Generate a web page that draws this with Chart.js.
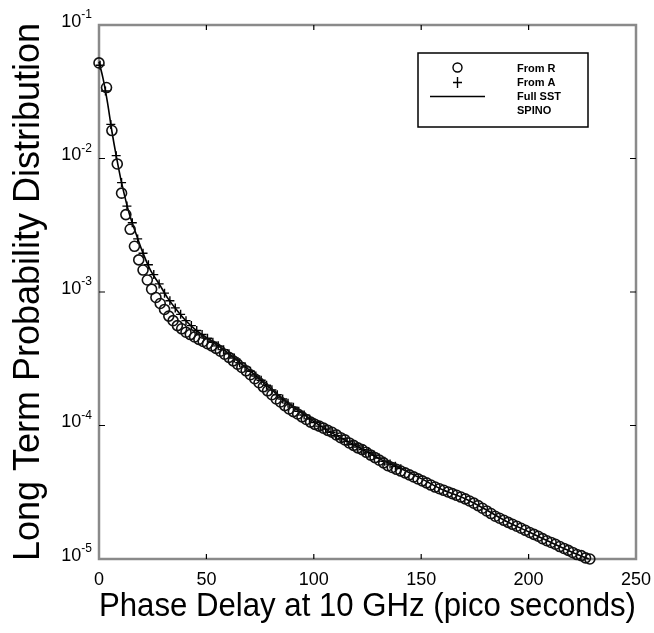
<!DOCTYPE html>
<html>
<head>
<meta charset="utf-8">
<script src="https://cdn.jsdelivr.net/npm/chart.js@4.4.0/dist/chart.umd.min.js"></script>
<style>
  html, body { margin: 0; padding: 0; background: #fff; }
</style>
</head>
<body>
<canvas id="chart" width="654" height="633"></canvas>
<script>
// values
const fromRX = [0, 3.5, 6, 8.5, 10.5, 12.5, 14.5, 16.5, 18.5, 20.5, 22.5, 24.5, 26.5, 28.5, 30.5, 32.5, 34.5, 36.5, 38.5, 40.5,
  42.5, 44.5, 46.5, 48.5, 50.5, 52.5, 54.5, 56.5, 58.5, 60.5, 62.5, 64.5, 66.5, 68.5, 70.5, 72.5, 74.5, 76.5, 78.5, 80.5,
  82.5, 84.5, 86.5, 88.5, 90.5, 92.5, 94.5, 96.5, 98.5, 100.5, 102.5, 104.5, 106.5, 108.5, 110.5, 112.5, 114.5, 116.5, 118.5, 120.5,
  122.5, 124.5, 126.5, 128.5, 130.5, 132.5, 134.5, 136.5, 138.5, 140.5, 142.5, 144.5, 146.5, 148.5, 150.5, 152.5, 154.5, 156.5, 158.5, 160.5,
  162.5, 164.5, 166.5, 168.5, 170.5, 172.5, 174.5, 176.5, 178.5, 180.5, 182.5, 184.5, 186.5, 188.5, 190.5, 192.5, 194.5, 196.5, 198.5, 200.5,
  202.5, 204.5, 206.5, 208.5, 210.5, 212.5, 214.5, 216.5, 218.5, 220.5, 222.5, 224.5, 226.5, 228.5];
const fromRY = [5.2e-2, 3.4e-2, 1.62e-2, 9.1e-3, 5.5e-3, 3.8e-3, 2.95e-3, 2.2e-3, 1.74e-3, 1.46e-3, 1.23e-3, 1.05e-3, 9.1e-4, 8.2e-4, 7.4e-4, 6.6e-4, 6.1e-4, 5.6e-4, 5.3e-4, 5.0e-4,
  4.8e-4, 4.6e-4, 4.42e-4, 4.26e-4, 4.1e-4, 3.95e-4, 3.78e-4, 3.6e-4, 3.42e-4, 3.24e-4, 3.05e-4, 2.88e-4, 2.72e-4, 2.57e-4, 2.4e-4, 2.24e-4, 2.09e-4, 1.95e-4, 1.82e-4, 1.7e-4,
  1.58e-4, 1.5e-4, 1.41e-4, 1.33e-4, 1.27e-4, 1.22e-4, 1.16e-4, 1.11e-4, 1.06e-4, 1.02e-4, 9.9e-5, 9.55e-5, 9.2e-5, 8.9e-5, 8.5e-5, 8.1e-5, 7.8e-5, 7.4e-5, 7.1e-5, 6.8e-5,
  6.6e-5, 6.3e-5, 6.0e-5, 5.75e-5, 5.5e-5, 5.25e-5, 5.0e-5, 4.85e-5, 4.7e-5, 4.56e-5, 4.42e-5, 4.27e-5, 4.12e-5, 3.98e-5, 3.85e-5, 3.72e-5, 3.58e-5, 3.46e-5, 3.36e-5, 3.27e-5,
  3.18e-5, 3.09e-5, 3.0e-5, 2.91e-5, 2.82e-5, 2.72e-5, 2.62e-5, 2.51e-5, 2.4e-5, 2.29e-5, 2.19e-5, 2.09e-5, 2.02e-5, 1.95e-5, 1.88e-5, 1.82e-5, 1.76e-5, 1.7e-5, 1.64e-5, 1.58e-5,
  1.53e-5, 1.48e-5, 1.42e-5, 1.37e-5, 1.33e-5, 1.29e-5, 1.24e-5, 1.2e-5, 1.16e-5, 1.12e-5, 1.08e-5, 1.06e-5, 1.02e-5, 1.0e-5];

const fromAX = [0.5, 3, 5.5, 8, 10.5, 13, 15.5, 18, 20.5, 23, 25.5, 28, 30.5, 33, 35.5, 38, 40.5, 43, 45.5, 48,
  50.5, 53, 55.5, 58, 60.5, 63, 65.5, 68, 70.5, 73, 75.5, 78, 80.5, 83, 85.5, 88, 90.5, 93, 95.5, 98,
  100.5, 103, 105.5, 108, 110.5, 113, 115.5, 118, 120.5, 123, 125.5, 128, 130.5, 133, 135.5, 138, 140.5];
const fromAY = [5.0e-2, 3.2e-2, 1.8e-2, 1.05e-2, 6.6e-3, 4.4e-3, 3.3e-3, 2.5e-3, 1.95e-3, 1.6e-3, 1.35e-3, 1.15e-3, 9.8e-4, 8.6e-4, 7.6e-4, 6.8e-4, 6.1e-4, 5.6e-4, 5.15e-4, 4.8e-4,
  4.5e-4, 4.2e-4, 3.95e-4, 3.7e-4, 3.45e-4, 3.2e-4, 2.95e-4, 2.75e-4, 2.55e-4, 2.35e-4, 2.18e-4, 2.0e-4, 1.85e-4, 1.7e-4, 1.58e-4, 1.47e-4, 1.37e-4, 1.28e-4, 1.2e-4, 1.12e-4,
  1.05e-4, 9.9e-5, 9.4e-5, 8.9e-5, 8.4e-5, 8.0e-5, 7.6e-5, 7.2e-5, 6.9e-5, 6.6e-5, 6.3e-5, 6.0e-5, 5.7e-5, 5.4e-5, 5.15e-5, 4.95e-5, 4.75e-5];

const sstX = [0, 2, 4, 6, 8, 10, 12, 14, 17, 20, 24, 28, 32, 36, 40, 45, 50, 55, 60, 65,
  70, 75, 80, 85, 90, 95, 100, 110, 120, 130, 140, 150, 160, 170, 180, 190, 200, 210, 220, 228];
const sstY = [5.3e-2, 3.9e-2, 2.6e-2, 1.6e-2, 1.05e-2, 7.2e-3, 5.2e-3, 3.9e-3, 2.8e-3, 2.05e-3, 1.45e-3, 1.15e-3, 9.0e-4, 7.4e-4, 6.2e-4, 5.2e-4, 4.55e-4, 4.0e-4, 3.5e-4, 3.0e-4,
  2.6e-4, 2.2e-4, 1.88e-4, 1.6e-4, 1.39e-4, 1.22e-4, 1.07e-4, 8.5e-5, 7.0e-5, 5.7e-5, 4.8e-5, 4.0e-5, 3.3e-5, 2.85e-5, 2.35e-5, 1.9e-5, 1.6e-5, 1.34e-5, 1.13e-5, 1.0e-5];

const xTicks = [0, 50, 100, 150, 200, 250];
const yTicks = [1e-5, 1e-4, 1e-3, 1e-2, 1e-1];
const yTickExp = ['-5', '-4', '-3', '-2', '-1'];
const legendLabels = ['From R', 'From A', 'Full SST', 'SPINO'];

const FONT = '"Liberation Sans", Arial, sans-serif';
const toPoints = (xs, ys) => xs.map((x, i) => ({ x: x, y: ys[i] }));

// matlab style box with inward ticks, superscript y labels and the legend box
const framePlugin = {
  id: 'frame',
  beforeDatasetsDraw(chart) {
    const { ctx, chartArea: a, scales } = chart;
    ctx.save();
    ctx.strokeStyle = '#8a8a8a';
    ctx.lineWidth = 2.5;
    ctx.strokeRect(a.left, a.top, a.right - a.left, a.bottom - a.top);
    ctx.strokeStyle = '#000';
    ctx.lineWidth = 1.2;
    ctx.beginPath();
    xTicks.slice(1, -1).forEach(v => {
      const px = scales.x.getPixelForValue(v);
      ctx.moveTo(px, a.bottom); ctx.lineTo(px, a.bottom - 5);
      ctx.moveTo(px, a.top); ctx.lineTo(px, a.top + 5);
    });
    yTicks.slice(1, -1).forEach(v => {
      const py = scales.y.getPixelForValue(v);
      ctx.moveTo(a.left, py); ctx.lineTo(a.left + 6, py);
      ctx.moveTo(a.right, py); ctx.lineTo(a.right - 6, py);
    });
    ctx.stroke();
    // y tick labels: 10 with a raised exponent
    ctx.fillStyle = '#000';
    ctx.textBaseline = 'middle';
    yTicks.forEach((v, i) => {
      const py = scales.y.getPixelForValue(v);
      ctx.font = '12px ' + FONT;
      ctx.textAlign = 'left';
      const ew = ctx.measureText(yTickExp[i]).width;
      const ex = a.left - 7 - ew;
      ctx.fillText(yTickExp[i], ex, py - 10);
      ctx.font = '18px ' + FONT;
      ctx.textAlign = 'right';
      ctx.fillText('10', ex, py - 3);
    });
    ctx.restore();
  },
  afterDraw(chart) {
    const { ctx, chartArea: a } = chart;
    const bx = a.right - 48 - 170, by = a.top + 28, bw = 170, bh = 74;
    ctx.save();
    ctx.fillStyle = '#fff';
    ctx.fillRect(bx, by, bw, bh);
    ctx.strokeStyle = '#000';
    ctx.lineWidth = 1.5;
    ctx.strokeRect(bx, by, bw, bh);
    const mx = bx + 39.5, tx = bx + 99;
    const rows = [by + 15.5, by + 29.5, by + 43.5, by + 58];
    ctx.lineWidth = 1.4;
    ctx.beginPath();
    ctx.arc(mx, rows[0] - 1, 4.5, 0, Math.PI * 2);
    ctx.stroke();
    ctx.beginPath();
    ctx.moveTo(mx - 4.5, rows[1]); ctx.lineTo(mx + 4.5, rows[1]);
    ctx.moveTo(mx, rows[1] - 5.5); ctx.lineTo(mx, rows[1] + 5.5);
    ctx.moveTo(bx + 12, rows[2]); ctx.lineTo(bx + 67, rows[2]);
    ctx.stroke();
    ctx.fillStyle = '#000';
    ctx.font = 'bold 11px ' + FONT;
    ctx.textAlign = 'left';
    ctx.textBaseline = 'middle';
    legendLabels.forEach((t, i) => ctx.fillText(t, tx, rows[i]));
    ctx.restore();
  }
};

new Chart(document.getElementById('chart'), {
  type: 'scatter',
  data: {
    datasets: [
      {
        label: legendLabels[0],
        data: toPoints(fromRX, fromRY),
        showLine: false,
        pointStyle: 'circle',
        pointRadius: 5,
        pointBorderWidth: 1.6,
        pointBorderColor: '#111',
        pointBackgroundColor: 'rgba(0,0,0,0)',
        clip: false
      },
      {
        label: legendLabels[1],
        data: toPoints(fromAX, fromAY),
        showLine: false,
        pointStyle: 'cross',
        pointRadius: 4.5,
        pointBorderWidth: 1.4,
        pointBorderColor: '#000',
        clip: false
      },
      {
        label: legendLabels[2],
        data: toPoints(sstX, sstY),
        showLine: true,
        borderColor: '#000',
        borderWidth: 1.6,
        pointRadius: 0,
        cubicInterpolationMode: 'monotone',
        clip: false
      }
    ]
  },
  options: {
    responsive: false,
    animation: false,
    devicePixelRatio: 1,
    layout: { padding: { left: 0, top: 25, right: 18, bottom: 0 } },
    plugins: { legend: { display: false }, tooltip: { enabled: false } },
    scales: {
      x: {
        type: 'linear',
        min: 0,
        max: 250,
        afterBuildTicks: s => { s.ticks = xTicks.map(v => ({ value: v })); },
        afterFit: s => { s.height = 74; s.paddingLeft = 0; s.paddingRight = 0; },
        grid: { display: false, drawTicks: false },
        border: { display: false },
        ticks: { color: '#000', padding: 10, font: { family: FONT, size: 18 } },
        title: {
          display: true,
          text: 'Phase Delay at 10 GHz (pico seconds)',
          color: '#000',
          font: { family: FONT, size: 34 },
          padding: { top: 0, bottom: 6 }
        }
      },
      y: {
        type: 'logarithmic',
        min: 1e-5,
        max: 1e-1,
        afterBuildTicks: s => { s.ticks = yTicks.map(v => ({ value: v })); },
        afterFit: s => { s.width = 99; s.paddingTop = 0; s.paddingBottom = 0; },
        grid: { display: false, drawTicks: false },
        border: { display: false },
        ticks: { display: false },
        title: {
          display: true,
          text: 'Long Term Probability Distribution',
          color: '#000',
          font: { family: FONT, size: 36 },
          padding: { top: 7, bottom: 0 }
        }
      }
    }
  },
  plugins: [framePlugin]
});
</script>
</body>
</html>
